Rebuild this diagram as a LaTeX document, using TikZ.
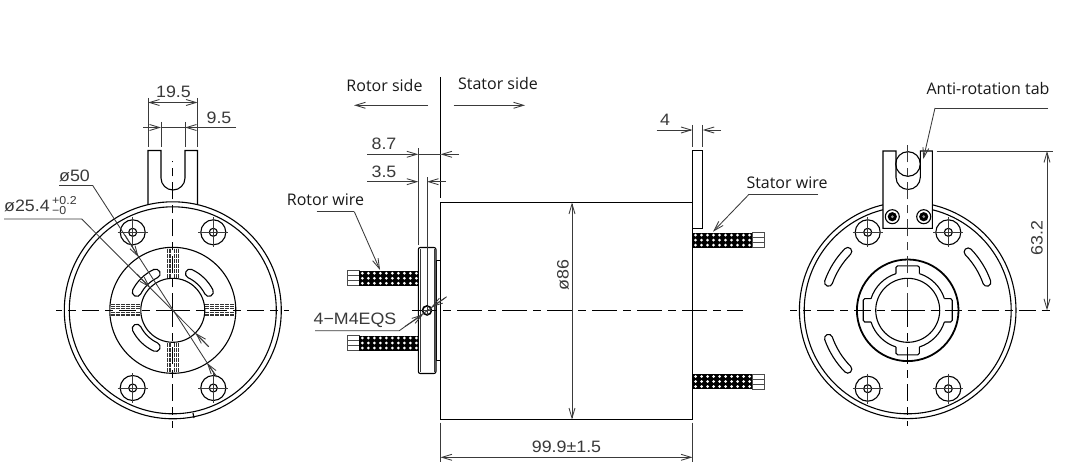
\documentclass[tikz,border=0pt]{standalone}
\usepackage{fontspec}
\setmainfont{Open Sans}
\newfontfamily\dimfont[FakeStretch=1.08]{Liberation Sans}
\usetikzlibrary{arrows.meta}
\definecolor{dimgray}{HTML}{3A3A3A}
\tikzset{
  outline/.style={line width=1.1pt,black},
  thickline/.style={line width=1.8pt,black},
  dimline/.style={line width=0.85pt,dimgray},
  tip/.style={dimline,-{Straight Barb[length=10pt,width=6pt]}},
  axis/.style={line width=1pt,black,dash pattern=on 17pt off 6pt on 8pt off 6pt},
  dimtext/.style={font=\dimfont\fontsize{16.5}{17}\selectfont,text=dimgray,inner sep=0pt},
  smalltext/.style={font=\dimfont\fontsize{11.5}{12}\selectfont,text=dimgray,inner sep=0pt},
  label/.style={font=\fontsize{16}{17}\selectfont,text=black!90,inner sep=0pt},
  hatchline/.style={line width=0.9pt,black!80,dash pattern=on 4pt off 1pt},
}
% arc slot: cx cy router rinner halfwidth a1 a2
\newcommand\slotshape[7]{\draw[outline,fill=white] (#1,#2) ++(#6:#3pt)
  arc[start angle=#6,end angle=#7,radius=#3pt]
  arc[start angle=#7,end angle=#7+180,radius=#5pt]
  arc[start angle=#7,end angle=#6,radius=#4pt]
  arc[start angle=#6+180,end angle=#6+360,radius=#5pt] -- cycle;}
% bolt hole with cross
\newcommand\bolthole[2]{\draw[outline] (#1,#2) circle[radius=12.5pt] (#1,#2) circle[radius=4pt];
  \draw[dimline] (#1-15,#2) -- (#1+15,#2) (#1,#2-15) -- (#1,#2+15);}
% wire bundle: x left, x right, y top, stub side start, stub end
\newcommand\wirebundle[5]{%
  \foreach \r in {0,1,2}{\draw[line width=0.7pt,black!70,fill=white] (#4,#3+\r*5) rectangle (#5,#3+\r*5+5);}
  \fill[black] (#1,#3) rectangle (#2,#3+15);
  \pgfmathsetmacro\xn{int((#2-#1-3)/6)}
  \foreach \r in {0,1,2}{\foreach \i in {0,...,\xn}{
    \fill[white] (#1+3+\i*6,#3+2.5+\r*5) circle[radius=1.5pt];}}}
\begin{document}
\begin{tikzpicture}[x=1pt,y=-1pt]
\useasboundingbox[fill=white] (0,0) rectangle (1089,476);
%%% LEFT VIEW
\draw[outline] (148,204.7) -- (148,150.5) -- (161,150.5) -- (161,178)
  arc[start angle=180,end angle=360,radius=12pt] -- (185,150.5) -- (197.5,150.5) -- (197.5,204.7);
\draw[outline] (172.8,310.3) circle[radius=108.5pt];
\draw[outline] (172.8,310.3) circle[radius=103.5pt];
\draw[outline] (193,413) -- (194,418);
\draw[outline] (172.8,310.3) circle[radius=63pt] circle[radius=32pt];
\foreach \k in {0,90,180,270}{
  \begin{scope}[shift={(172.8,310.3)},rotate=\k]
    \foreach \o in {-5.5,-3.7,-2,2,3.7,5.5}{\draw[hatchline] (32.5pt,\o pt) -- (62.5pt,\o pt);}
  \end{scope}}
\slotshape{172.8}{310.3}{45}{36}{4.5}{27}{65}
\slotshape{172.8}{310.3}{45}{36}{4.5}{115}{153}
\slotshape{172.8}{310.3}{45}{36}{4.5}{207}{245}
\bolthole{132.7}{232.3}\bolthole{213.3}{232.3}\bolthole{132.7}{388}\bolthole{213.3}{388}
\draw[axis] (172.8,310.3) -- (56,310.3);
\draw[axis] (172.8,310.3) -- (289,310.3);
\draw[axis] (172.8,310.3) -- (172.8,161);
\draw[axis] (172.8,310.3) -- (172.8,428);
% dims left
\draw[dimline] (148,98) -- (148,147) (197.5,98) -- (197.5,147) (161,122) -- (161,147) (185,122) -- (185,147);
\draw[tip] (173,102.5) -- (148,102.5);
\draw[tip] (173,102.5) -- (197.5,102.5);
\draw[tip] (143,127.5) -- (161,127.5);
\draw[tip] (236,127.5) -- (185,127.5);
\draw[dimline] (161,127.5) -- (185,127.5);
\node[dimtext] (d195) at (173.5,92) {19.5};
\node[dimtext] (d95) at (219,118) {9.5};
\node[dimtext] (dphi50) at (74.5,175.5) {ø50};
\node[dimtext,anchor=west] (dphi25) at (4,206) {ø25.4};
\node[smalltext,anchor=west] (dplus) at (52,200.5) {+0.2};
\node[smalltext,anchor=west] (dminus) at (52,211) {−0};
\draw[dimline] (59,185.5) -- (92.7,185.5) -- (215,375);
\draw[tip] (125,235) -- (138.5,257);
\draw[tip] (217,377) -- (207,363);
\draw[dimline] (4,219) -- (81.7,219) -- (208.7,346.7);
\draw[tip] (137,274) -- (150,287.5);
\draw[tip] (208.7,346.7) -- (195.5,333);
%%% MIDDLE VIEW
\draw[outline] (440.5,77) -- (440.5,198);
\draw[outline] (440.5,202.5) rectangle (692.5,419.5);
\draw[outline,fill=white] (692.5,150.7) rectangle (702.7,228.3);
\draw[outline,fill=white] (436,260.5) rectangle (440.5,360.5);
\draw[outline,fill=white,rounded corners=2pt] (418.3,247.5) rectangle (436,373.5);
\draw[dimline] (420.3,249) -- (420.3,372) (434,249) -- (434,372);
\draw[dimline] (418.3,148) -- (418.3,245) (427,177) -- (427,306);
\wirebundle{359.3}{418.3}{270.8}{347}{359.3}
\wirebundle{359.3}{418.3}{335.5}{347}{359.3}
\wirebundle{692.5}{752}{232.6}{752}{764}
\wirebundle{692.5}{752}{374}{752}{764}
\draw[axis,dash pattern=on 25pt off 6pt on 8pt off 6pt] (412,310.4) -- (743,310.4);
\draw[line width=1.6pt,fill=white] (427,310.4) circle[radius=4.5pt];
\draw[dimline] (422,310.4) -- (432,310.4) (427,305.5) -- (427,315.5);
% rotor/stator side
\node[label] (rotorside) at (384.5,85.5) {Rotor side};
\node[label] (statorside) at (498,83.5) {Stator side};
\draw[tip] (428,105.3) -- (354,105.3);
\draw[tip] (453.7,105.3) -- (525,105.3);
% dims middle
\draw[tip] (367,154.3) -- (418.3,154.3);
\draw[tip] (459,154.3) -- (440.5,154.3);
\draw[dimline] (418.3,154.3) -- (440.5,154.3);
\draw[tip] (367,181.7) -- (418.3,181.7);
\draw[tip] (445.7,181.7) -- (427,181.7);
\node[dimtext] (d87) at (384,144) {8.7};
\node[dimtext] (d35) at (384,172) {3.5};
\node[label] (rotorwire) at (325.5,200) {Rotor wire};
\draw[dimline] (316.7,211.7) -- (354.3,211.7);
\draw[tip] (354.3,211.7) -- (380,270);
\node[dimtext] (dm4) at (355,320) {4−M4EQS};
\draw[dimline] (315,330.7) -- (399.3,330.7) -- (446.7,296.7);
\draw[tip] (405,326.5) -- (423,314.5);
\draw[tip] (445,298) -- (431.5,307);
\draw[tip] (572,300) -- (572,202.5);
\draw[tip] (572,300) -- (572,419.5);
\node[dimtext,rotate=90] (d86) at (563,275) {ø86};
\draw[dimline] (440.5,422.7) -- (440.5,462) (692.5,422.7) -- (692.5,462);
\draw[tip] (566,457.3) -- (440.5,457.3);
\draw[tip] (566,457.3) -- (692.5,457.3);
\node[dimtext] (d999) at (566.5,447) {99.9±1.5};
\draw[dimline] (692.5,125) -- (692.5,147) (702.7,125) -- (702.7,147);
\draw[tip] (656.7,130) -- (692.5,130);
\draw[tip] (721,130) -- (702.7,130);
\node[dimtext] (d4) at (665,120) {4};
\node[label] (statorwire) at (787,183) {Stator wire};
\draw[dimline] (818,194.3) -- (749,194.3);
\draw[tip] (749,194.3) -- (713,231.7);
%%% RIGHT VIEW
\draw[outline] (907.7,310.3) circle[radius=108.3pt] circle[radius=103.5pt];
\draw[thickline] (907.7,310.3) circle[radius=50.8pt];
\draw[outline] (907.7,310.3) circle[radius=32pt];
\foreach \k in {0,90,180,270}{
  \begin{scope}[shift={(907.7,310.3)},rotate=\k]
    \draw[outline] (17.7:38.5pt) arc[start angle=17.7,end angle=72.3,radius=38.5pt];
    \draw[outline] (36.7pt,-11.7pt) -- (43pt,-11.7pt) -- (44.5pt,-10pt) -- (44.5pt,10pt) -- (43pt,11.7pt) -- (36.7pt,11.7pt);
  \end{scope}}
\slotshape{907.7}{310.3}{88}{80}{4}{19.5}{44}
\slotshape{907.7}{310.3}{88}{80}{4}{135.5}{160.5}
\slotshape{907.7}{310.3}{88}{80}{4}{199.5}{224.5}
\bolthole{867.7}{232.3}\bolthole{948.3}{232.3}\bolthole{867.7}{388.7}\bolthole{948.3}{388.7}
\draw[outline,fill=white] (883,151) -- (896,151) -- (896,177.3)
  arc[start angle=180,end angle=360,radius=12.15pt] -- (920.3,151) -- (932.3,151) -- (932.3,228.3) -- (883,228.3) -- cycle;
\draw[outline] (908,164) circle[radius=12.3pt];
\foreach \x in {892.3,923.7}{
  \draw[outline,fill=white] (\x,216.7) circle[radius=7pt];
  \fill[black] (\x,216.7) circle[radius=4.6pt];
  \fill[white!60!black] (\x,216.7) circle[radius=1.5pt];}
\draw[axis] (907.7,310.3) -- (790,310.3);
\draw[axis] (907.7,310.3) -- (1053,310.3);
\draw[axis,dimgray] (907.7,310.3) -- (907.7,145);
\draw[axis] (907.7,310.3) -- (907.7,426);
\node[label] (antitab) at (988,89) {Anti-rotation tab};
\draw[dimline] (1048,108) -- (935,108);
\draw[tip] (935,108) -- (923.3,159);
\draw[dimline] (936.7,151) -- (1053,151);
\draw[tip] (1047,230) -- (1047,151);
\draw[tip] (1047,230) -- (1047,310.3);
\node[dimtext,rotate=90] (d632) at (1037,238) {63.2};
\end{tikzpicture}
\end{document}
